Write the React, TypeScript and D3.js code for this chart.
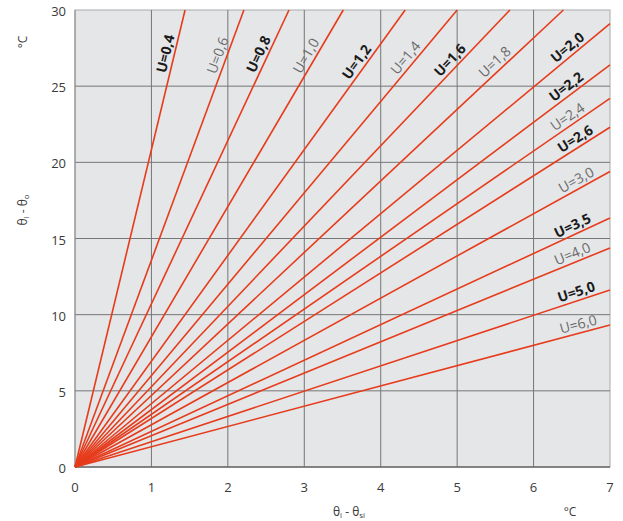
import * as d3 from "d3";

// U values and where each line leaves the plot
const uLabels = ["U=0,4", "U=0,6", "U=0,8", "U=1,0", "U=1,2", "U=1,4", "U=1,6", "U=1,8", "U=2,0", "U=2,2", "U=2,4", "U=2,6", "U=3,0", "U=3,5", "U=4,0", "U=5,0", "U=6,0"];
const endX = [1.44, 2.21, 2.8, 3.51, 4.32, 5.0, 5.69, 6.39, 7, 7, 7, 7, 7, 7, 7, 7, 7];
const endY = [30, 30, 30, 30, 30, 30, 30, 30, 29.1, 26.4, 24.2, 22.3, 19.4, 16.35, 14.38, 11.62, 9.32];
const xTicks = [0, 1, 2, 3, 4, 5, 6, 7];
const yTicks = [0, 5, 10, 15, 20, 25, 30];

// label layout: bold or not, how far along the line
const boldLabel = [true, false, true, false, true, false, true, false, true, true, false, true, false, true, false, true, false];
const labelT = [0.9, 0.894, 0.895, 0.89, 0.875, 0.883, 0.877, 0.872, 0.931, 0.928, 0.93, 0.944, 0.945, 0.937, 0.936, 0.942, 0.945];

const W = 623;
const H = 521;
const font = "'Open Sans', sans-serif";

export default function App() {
  const x = d3.scaleLinear().domain([0, 7]).range([75, 610]);
  const y = d3.scaleLinear().domain([0, 30]).range([467, 10]);
  const line = d3.line<[number, number]>().x((d) => x(d[0])).y((d) => y(d[1]));

  return (
    <svg width={W} height={H} style={{ position: "absolute", left: 0, top: 0, background: "#fff" }}>
      <rect x={x(0)} y={y(30)} width={x(7) - x(0)} height={y(0) - y(30)} fill="#e5e6e8" stroke="#a9a9a9" strokeWidth={1} />
      {xTicks.slice(1, -1).map((t) => (
        <line key={"gx" + t} x1={x(t)} x2={x(t)} y1={y(0)} y2={y(30)} stroke="#767676" strokeWidth={1} />
      ))}
      {yTicks.slice(1, -1).map((t) => (
        <line key={"gy" + t} x1={x(0)} x2={x(7)} y1={y(t)} y2={y(t)} stroke="#767676" strokeWidth={1} />
      ))}
      <line x1={x(0)} x2={x(7)} y1={y(0)} y2={y(0)} stroke="#6a6a6a" strokeWidth={1.5} />
      <line x1={x(0)} x2={x(0)} y1={y(0)} y2={y(30)} stroke="#8a8a8a" strokeWidth={1} />

      {uLabels.map((u, i) => (
        <path key={"l" + u} d={line([[0, 0], [endX[i], endY[i]]]) || ""} stroke="#e63c1c" strokeWidth={1.6} fill="none" />
      ))}

      {uLabels.map((u, i) => {
        const x0 = x(0), y0 = y(0), x1 = x(endX[i]), y1 = y(endY[i]);
        const dx = x1 - x0, dy = y1 - y0;
        const len = Math.hypot(dx, dy);
        const t = labelT[i];
        const off = 9.5;
        const cx = x0 + dx * t + (dy / len) * off;
        const cy = y0 + dy * t - (dx / len) * off;
        const ang = (Math.atan2(dy, dx) * 180) / Math.PI;
        return (
          <text
            key={"t" + u}
            transform={`translate(${cx},${cy}) rotate(${ang})`}
            textAnchor="middle"
            dominantBaseline="central"
            fontFamily={font}
            fontSize={14}
            fontWeight={boldLabel[i] ? 700 : 400}
            fill={boldLabel[i] ? "#1a1a1a" : "#6a6a6a"}
          >
            {u}
          </text>
        );
      })}

      {yTicks.map((t) => (
        <text key={"yt" + t} x={66} y={y(t) + 1} textAnchor="end" dominantBaseline="central" fontFamily={font} fontSize={13} fill="#3a3a3a">
          {t}
        </text>
      ))}
      {xTicks.map((t) => (
        <text key={"xt" + t} x={x(t)} y={487} textAnchor="middle" dominantBaseline="central" fontFamily={font} fontSize={13} fill="#3a3a3a">
          {t}
        </text>
      ))}

      <text transform="translate(22,42) rotate(-90)" textAnchor="middle" dominantBaseline="central" fontFamily={font} fontSize={12} fill="#3a3a3a">
        °C
      </text>
      <text transform="translate(22,210) rotate(-90)" textAnchor="middle" dominantBaseline="central" fontFamily={font} fontSize={12} fill="#3a3a3a">
        θ<tspan fontSize={8} dy={3}>i</tspan>
        <tspan dy={-3}> - θ</tspan>
        <tspan fontSize={8} dy={3}>o</tspan>
      </text>
      <text x={349} y={511} textAnchor="middle" dominantBaseline="central" fontFamily={font} fontSize={12} fill="#3a3a3a">
        θ<tspan fontSize={8} dy={3}>i</tspan>
        <tspan dy={-3}> - θ</tspan>
        <tspan fontSize={8} dy={3}>si</tspan>
      </text>
      <text x={570} y={511} textAnchor="middle" dominantBaseline="central" fontFamily={font} fontSize={12} fill="#3a3a3a">
        °C
      </text>
    </svg>
  );
}
